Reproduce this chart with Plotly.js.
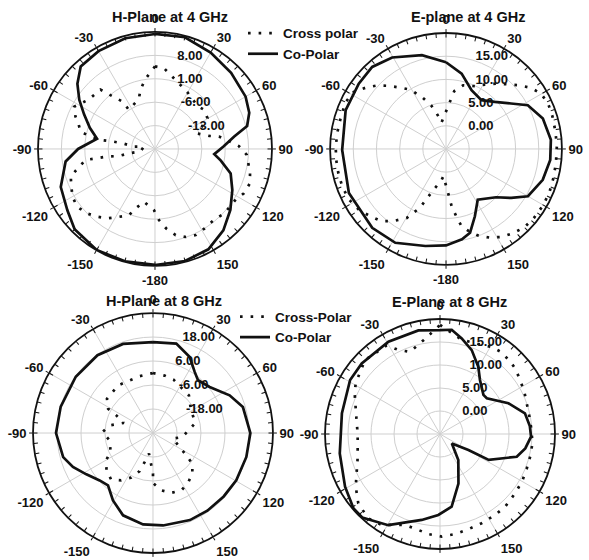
<!DOCTYPE html>
<html>
<head>
<meta charset="utf-8">
<script src="https://cdn.plot.ly/plotly-3.0.1.min.js"></script>
<style>html,body{margin:0;padding:0;background:#fff}#chart{width:589px;height:560px}</style>
</head>
<body>
<div id="chart"></div>
<script>
// ---- Data (angle in degrees, 0 at top, clockwise positive; level in dB) ----
const angTickVals = [0, 30, 60, 90, 120, 150, 180, 210, 240, 270, 300, 330];
const angTickText = ['0', '30', '60', '90', '120', '150', '-180', '-150', '-120', '-90', '-60', '-30'];

const panelTitles = ['H-Plane at 4 GHz', 'E-plane at 4 GHz', 'H-Plane at 8 GHz', 'E-Plane at 8 GHz'];
const legendTop = ['Cross polar', 'Co-Polar'];
const legendBottom = ['Cross-Polar', 'Co-Polar'];

const h4RadialTicks = [-13, -6, 1, 8];
const h4RadialRange = [-20, 15];
const e4RadialTicks = [0, 5, 10, 15];
const e4RadialRange = [-5, 20];
const h8RadialTicks = [-18, -6, 6, 18];
const h8RadialRange = [-30, 30];
const e8RadialTicks = [0, 5, 10, 15];
const e8RadialRange = [-5, 20];

// H-plane 4 GHz
const h4CoTheta = [0, 15, 30, 45, 60, 69, 76, 81, 88, 95, 100, 108, 118, 129, 140, 152, 165, 180, -165, -150, -135, -125, -112, -98, -90, -80, -72, -64, -57, -50, -42, -30, -15, 0];
const h4CoDb    = [14.4, 14.6, 13.3, 12.2, 11.3, 10.2, 8.4, 4, 0.5, -2.2, 0, 3.8, 6.2, 9, 11.8, 14, 14.7, 14.7, 14.8, 14.9, 14, 12, 10.4, 7, 3, -2.4, 0.5, 3.6, 7, 10.3, 13.2, 13.8, 14.3, 14.4];
const h4XTheta = [0, -7.6, -13.5, -18, -33.7, -34.6, -39, -42.6, -53.7, -62.4, -67.8, -72.5, -77, -79, -80.6, -80, -80, -83.7, -78, -100, -99.5, -101, -99, -99, -99, -108, -114, -120, -126.6, -133.6, -139.6, -145.5, -152, -158.5, -162, -168, -179, 176.8, 172, 166.5, 160.7, 154.7, 148, 140, 133, 122, 116.5, 110, 104, 93.7, 88, 79, 76.5, 70, 59.6, 51.5, 44.5, 29.4, 23.7, 6.4, 0];
const h4XDb    = [4.7, 1.2, -1.6, -4.3, -5.9, -2.7, 0.3, 4.1, 4.8, 7.3, 5.7, 3.9, 2.9, -0.4, -3.5, -7, -10.1, -13.7, -16.6, -15.6, -12.1, -9, -5.5, -2.5, 1.1, 6.5, 7.4, 8.5, 9, 8, 6.6, 5.2, 3, 1.3, -1.3, -3.9, -1.7, 1.3, 4, 6.5, 7.9, 8.5, 8, 7.6, 8.3, 8.5, 9.7, 10.2, 9.3, 7.5, 5.1, -0.5, -3.3, -6.5, -1.8, -1.2, -1.9, -0.4, 0.3, 4.3, 4.7];

// E-plane 4 GHz
const e4CoTheta = [0, 11.7, 23.5, 36, 46, 55, 61.9, 72.5, 85, 96, 107.7, 120, 126.9, 134, 148, 156.8, 164, 170, 180, -168, -151.6, -136.9, -114.4, -90.5, -68.9, -53.2, -42, -30.5, -14.4, 0];
const e4CoDb    = [13.7, 11.6, 8.8, 8, 9.6, 12.1, 15, 16.9, 17.7, 17.6, 16.9, 15.4, 12.6, 10, 7.9, 10.8, 13.8, 14.8, 15.8, 16.4, 18, 18.3, 18, 17.4, 18.2, 18.5, 18.8, 17.9, 15.9, 13.7];
const e4XTheta = [-9, 8.1, 15, 24.7, 31, 37.6, 43.8, 49, 54.3, 59.8, 66, 73, 81, 88.8, 97.4, 105, 113, 120.6, 128, 135, 141.6, 147.9, 153.8, 159.4, 164.5, 168.6, 171, 174.4, 176.4, -174.5, -172, -161.3, -156, -150.4, -144, -138.2, -131.3, -125, -117.6, -109.9, -102.7, -95.7, -88.8, -81, -73, -65, -58.3, -52.7, -47.3, -42.3, -36.7, -31, -25, -18.8, -14.7, -9];
const e4XDb    = [0.9, 7.6, 9.2, 9.9, 11.2, 12.8, 14.3, 15.9, 17.6, 18.7, 19.1, 19, 18.9, 18.9, 18.9, 19, 19.2, 19.2, 19.1, 18.9, 18.2, 17.4, 16.3, 15, 13.4, 12, 10, 7.4, 5.2, 0.9, 1.7, 5, 8.9, 12.1, 14.2, 15.9, 16.9, 17.9, 18.6, 18.8, 18.8, 18.8, 18.8, 18.7, 18.7, 18.9, 18.4, 16.8, 15.2, 13.4, 11.5, 9.9, 7.4, 4.9, 2.9, 0.9];

// H-plane 8 GHz
const h8CoTheta = [0, 14.6, 25.8, 34.3, 40.5, 50.9, 63.8, 73.9, 90, 104.4, 119.6, 131.9, 145, 157, 173.8, -173.8, -160, -149.3, -139.3, -131.6, -121.8, -113, -105, -90, -74, -53.9, -35.5, -18.6, 0];
const h8CoDb    = [15.5, 16.2, 12.2, 7, 4.7, 6.5, 12.7, 16.8, 18.7, 18.2, 17.9, 17.5, 17.4, 17.3, 16.5, 16, 13.8, 9.2, 4.5, 5.7, 9.2, 13.5, 16.5, 18.5, 18, 17.8, 17.8, 17, 15.5];
const h8XTheta = [0, 11.5, 21, 43.7, 56.4, 66, 76.7, 97.8, 105.8, 117.7, 123.8, 128, 136, 145, 153.7, 163, 171.7, 180, 180, -169, -164, -160.7, -154, -146, -138, -128.7, -120, -114, -99.6, -88.9, -80, -71, -64.3, -61.6, -53.3, -36, -24, -13.2, 0];
const h8XDb    = [0, -0.7, -1.4, -4, -7.4, -8.2, -8.3, -15.2, -19.7, -15, -10, -5, -1.7, 0.5, 2, 1.3, -1, -5, -9.7, -19.5, -15, -9.8, -5.2, -1.5, 1.3, -0.2, -3, -6.8, -8, -4.7, -8, -14.5, -9.7, -4.5, -1.3, -0.5, -1.2, -0.8, 0];

// E-plane 8 GHz
const e8CoTheta = [0, 6.4, 12.8, 20.7, 29.7, 36.5, 48, 52.6, 65.8, 76.3, 85, 91.7, 99.6, 106.5, 118, 119.5, 128.7, 144.8, 159.6, 170.9, -178.8, -168, -150.4, -137, -130.7, -119, -101, -78, -59, -48, -29.2, -11.8, 0];
const e8CoDb    = [17.6, 17.8, 16.3, 14.5, 11.8, 9.6, 7.7, 7.8, 11.3, 14, 14.6, 14.8, 13.8, 12.4, 7, 2.1, -1.7, 1.9, 6.5, 11, 12.6, 14.1, 17.8, 19.8, 19.8, 18.6, 17.2, 16.8, 17.8, 17.9, 18, 18, 17.6];
const e8XTheta = [0, 13, 19, 25, 30.6, 36, 42.5, 48.8, 56, 63.3, 70.5, 79, 87.5, 95.8, 104, 111.6, 120, 128.3, 138, 145.8, 155, 163.4, 171.5, 179, -173.3, -166, -159, -147, -139.6, -130.3, -122, -115, -107.5, -98.7, -90, -80.5, -72, -65.3, -59, -45.4, -31, -26.4, -20, -10, 0];
const e8XDb    = [18.7, 16, 16.1, 16.4, 17, 17.2, 17, 16.7, 16, 15.5, 15, 14.8, 14.9, 15.2, 15.2, 15.3, 15.6, 15.8, 16.2, 16.3, 16.4, 16.6, 17, 17.3, 16.9, 16.3, 16.2, 18.5, 19.1, 18.3, 16.6, 15, 13.8, 13.1, 12.9, 13.4, 14.3, 15.4, 16.4, 17.9, 17.5, 15.4, 14, 15.7, 18.7];

// ---- Build figure ----
const FAMILY = 'Arial, "Liberation Sans", sans-serif';
const TICKFONT = {family: FAMILY, size: 13, color: '#111', weight: 'bold'};
const TITLEFONT = {family: FAMILY, size: 14.5, color: '#111', weight: 'bold'};
const LEGFONT = {family: FAMILY, size: 13.5, color: '#111', weight: 'bold'};
const coLine = {color: '#111', width: 2.7};
const xLine = {color: '#111', width: 2.7, dash: '2.6px,8px'};

const domains = [
  {x: [0.0645, 0.4618], y: [0.525, 0.943]},
  {x: [0.5603, 0.9542], y: [0.527, 0.941]},
  {x: [0.056, 0.4635], y: [0.0125, 0.441]},
  {x: [0.5518, 0.9423], y: [0.0196, 0.4304]}
];

const panels = [
  {sub: 'polar',  coT: h4CoTheta, coR: h4CoDb, xT: h4XTheta, xR: h4XDb, leg: 'legend',  names: legendTop,    show: true},
  {sub: 'polar2', coT: e4CoTheta, coR: e4CoDb, xT: e4XTheta, xR: e4XDb, leg: 'legend',  names: legendTop,    show: false},
  {sub: 'polar3', coT: h8CoTheta, coR: h8CoDb, xT: h8XTheta, xR: h8XDb, leg: 'legend2', names: legendBottom, show: true},
  {sub: 'polar4', coT: e8CoTheta, coR: e8CoDb, xT: e8XTheta, xR: e8XDb, leg: 'legend2', names: legendBottom, show: false}
];

const data = [];
panels.forEach(p => {
  data.push({type: 'scatterpolar', mode: 'lines', subplot: p.sub, theta: p.xT, r: p.xR,
    line: xLine, name: p.names[0], legend: p.leg, showlegend: p.show, hoverinfo: 'skip'});
  data.push({type: 'scatterpolar', mode: 'lines', subplot: p.sub, theta: p.coT, r: p.coR,
    line: coLine, name: p.names[1], legend: p.leg, showlegend: p.show, hoverinfo: 'skip'});
});
// overlay subplots carrying only the fine angular tick marks of the outer ring
const fineTicks = [];
for (let a = 0; a < 360; a += 5) fineTicks.push(a);
['polar5', 'polar6', 'polar7', 'polar8'].forEach(s => {
  data.push({type: 'scatterpolar', mode: 'lines', subplot: s, theta: [], r: [], showlegend: false, hoverinfo: 'skip'});
});

// radial labels sit to the right of the vertical axis: pad with no-break spaces of equal width
function radialLabel(v) {
  const s = v.toFixed(2);
  let w = 0;
  for (const ch of s) w += (ch === '.') ? 1 : (ch === '-') ? 1.2 : 2;
  return '\u00a0'.repeat(Math.round(w) - 1) + s;
}

function polarLayout(dom, range, ticks) {
  return {
    domain: dom,
    bgcolor: 'rgba(0,0,0,0)',
    radialaxis: {
      range: range, tickvals: ticks, ticktext: ticks.map(radialLabel),
      angle: 90, tickangle: 90, showline: false, ticks: '',
      gridcolor: '#cfcfcf', gridwidth: 1, tickfont: TICKFONT, side: 'clockwise'
    },
    angularaxis: {
      rotation: 90, direction: 'clockwise', thetaunit: 'degrees',
      tickvals: angTickVals, ticktext: angTickText,
      showline: true, linecolor: '#111', linewidth: 1.8,
      ticks: 'outside', ticklen: 3, tickcolor: '#111',
      gridcolor: '#cfcfcf', gridwidth: 1, tickfont: TICKFONT
    }
  };
}
function tickLayer(dom, range) {
  return {
    domain: dom,
    bgcolor: 'rgba(0,0,0,0)',
    radialaxis: {range: range, visible: false},
    angularaxis: {
      rotation: 90, direction: 'clockwise', thetaunit: 'degrees',
      tickvals: fineTicks, showticklabels: false, showgrid: false,
      showline: false, ticks: 'inside', ticklen: 4, tickcolor: '#111', tickwidth: 1
    }
  };
}

const layout = {
  width: 589, height: 560,
  margin: {l: 0, r: 0, t: 0, b: 0},
  paper_bgcolor: '#fff',
  font: TICKFONT,
  polar:  polarLayout(domains[0], h4RadialRange, h4RadialTicks),
  polar2: polarLayout(domains[1], e4RadialRange, e4RadialTicks),
  polar3: polarLayout(domains[2], h8RadialRange, h8RadialTicks),
  polar4: polarLayout(domains[3], e8RadialRange, e8RadialTicks),
  polar5: tickLayer(domains[0], h4RadialRange),
  polar6: tickLayer(domains[1], e4RadialRange),
  polar7: tickLayer(domains[2], h8RadialRange),
  polar8: tickLayer(domains[3], e8RadialRange),
  legend:  {x: 0.4126, y: 0.968, xanchor: 'left', yanchor: 'top', bgcolor: 'rgba(0,0,0,0)', font: LEGFONT, tracegroupgap: 0},
  legend2: {x: 0.399, y: 0.462, xanchor: 'left', yanchor: 'top', bgcolor: 'rgba(0,0,0,0)', font: LEGFONT, tracegroupgap: 0},
  annotations: [
    {x: 0.2886, y: 0.9696, text: panelTitles[0]},
    {x: 0.7946, y: 0.9696, text: panelTitles[1]},
    {x: 0.2785, y: 0.4625, text: panelTitles[2]},
    {x: 0.764,  y: 0.4607, text: panelTitles[3]}
  ].map(a => Object.assign({xref: 'paper', yref: 'paper', showarrow: false, xanchor: 'center', yanchor: 'middle', font: TITLEFONT}, a)),
  showlegend: true
};

Plotly.newPlot('chart', data, layout, {staticPlot: true, displayModeBar: false});
</script>
</body>
</html>
